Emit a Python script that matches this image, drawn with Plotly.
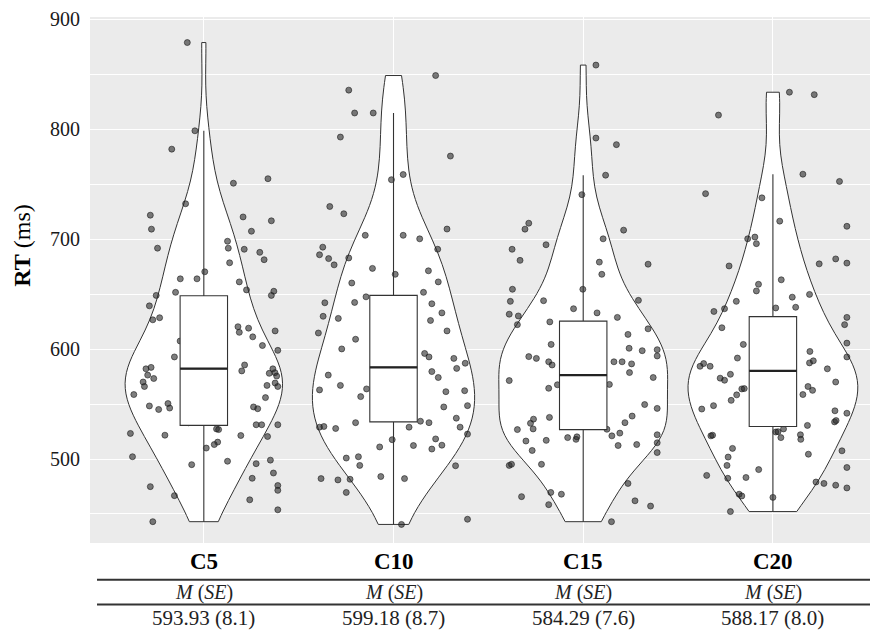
import numpy as np
import plotly.graph_objects as go

# ---------------- data ----------------
categories = ["C5", "C10", "C15", "C20"]

# visible (jittered) points: RT value and horizontal jitter offset
c5_rt = [879.0, 798.7, 782.0, 751.0, 755.1, 732.3, 721.9, 709.2, 720.3, 716.8,
         707.3, 691.9, 698.2, 691.9, 690.9, 688.1, 681.4, 678.6, 664.0, 664.0,
         670.4, 651.7, 648.9, 639.4, 661.2, 653.9, 652.7, 648.9, 626.7, 628.6,
         620.4, 615.3, 619.1, 611.2, 616.6, 603.3, 598.9, 607.4, 592.9, 585.6,
         580.2, 582.1, 583.4, 576.4, 573.3, 570.1, 566.0, 558.7, 582.1, 578.0,
         578.6, 575.5, 567.0, 569.2, 566.0, 555.9, 548.3, 545.1, 550.5, 546.4,
         547.4, 545.8, 531.2, 531.2, 531.2, 527.4, 526.8, 515.4, 513.2, 510.0,
         521.7, 523.3, 521.4, 520.5, 502.1, 494.9, 498.0, 495.8, 499.0, 482.5,
         487.3, 474.9, 466.7, 475.9, 471.5, 462.9, 453.8, 443.0]
c5_jitter = [-0.087, -0.047, -0.169, 0.156, 0.338, -0.096, -0.282, -0.276, 0.207, 0.356,
             0.251, -0.244, 0.125, 0.129, 0.213, 0.295, 0.318, 0.136, -0.124, -0.036,
             0.005, -0.149, -0.251, -0.287, 0.187, 0.225, 0.369, 0.356, -0.269, -0.233,
             0.18, 0.187, 0.236, 0.258, 0.376, 0.309, 0.39, -0.125, -0.155, 0.215,
             0.2, -0.305, -0.278, -0.296, -0.264, -0.32, -0.313, -0.369, 0.364, 0.345,
             0.375, 0.384, 0.333, 0.376, 0.39, 0.325, -0.287, -0.238, -0.189, -0.18,
             0.262, 0.284, 0.276, 0.305, 0.39, 0.067, 0.078, 0.073, 0.055, 0.013,
             -0.205, -0.387, 0.195, 0.336, -0.376, -0.064, 0.125, 0.276, 0.351, 0.255,
             0.367, -0.282, -0.155, 0.39, 0.39, 0.242, 0.39, -0.269]

c10_rt = [849.0, 835.7, 814.9, 814.9, 793.0, 775.7, 754.2, 758.9, 729.8, 723.2,
          703.6, 703.6, 700.4, 709.3, 690.9, 682.4, 676.7, 683.0, 673.5, 668.1,
          671.3, 660.2, 661.2, 647.6, 642.5, 651.7, 641.3, 633.0, 626.1, 628.0,
          616.6, 609.0, 600.2, 596.1, 592.9, 591.6, 582.5, 587.2, 579.6, 574.2,
          576.4, 567.0, 563.8, 556.8, 561.3, 562.2, 548.6, 547.4, 537.2, 529.0,
          522.7, 534.4, 533.1, 529.0, 527.8, 533.1, 517.6, 511.0, 512.3, 518.3,
          509.1, 512.6, 500.9, 502.1, 494.2, 481.0, 481.6, 469.6, 484.1, 482.2,
          493.9, 440.5, 445.2, 692.8, 685.9, 642.2, 629.9, 614.7, 562.9, 529.0,
          529.6, 482.2]
c10_jitter = [0.222, -0.236, -0.205, -0.107, -0.28, 0.3, -0.011, 0.051, -0.336, -0.262,
              -0.149, 0.051, 0.138, 0.282, 0.233, -0.342, -0.313, -0.236, -0.111, 0.009,
              0.184, -0.22, 0.236, -0.145, -0.205, 0.158, 0.202, 0.255, 0.195, -0.291,
              0.282, -0.2, -0.273, 0.164, 0.187, 0.318, 0.333, 0.378, 0.202, 0.236,
              -0.344, -0.28, -0.142, -0.173, 0.276, 0.375, 0.39, 0.265, 0.331, 0.351,
              0.39, 0.142, 0.187, 0.082, -0.305, -0.2, -0.007, -0.073, 0.105, 0.222,
              0.202, 0.255, -0.249, -0.185, -0.178, -0.293, -0.229, -0.249, -0.067, 0.058,
              0.327, 0.042, 0.39, -0.373, -0.39, -0.362, -0.371, -0.396, -0.39, -0.39,
              -0.367, -0.382]

c15_rt = [858.5, 792.1, 786.1, 758.3, 740.6, 714.6, 709.2, 708.3, 695.0, 700.4,
          680.8, 679.2, 677.3, 668.1, 654.5, 644.1, 644.4, 636.8, 633.0, 628.9,
          630.2, 622.3, 624.8, 613.4, 604.3, 618.5, 600.8, 598.6, 599.5, 593.8,
          593.2, 591.6, 588.5, 585.6, 588.5, 588.5, 586.6, 578.7, 567.6, 564.4,
          567.9, 574.2, 549.6, 546.1, 537.9, 536.3, 532.5, 527.4, 526.8, 516.4,
          507.8, 517.0, 539.1, 533.1, 527.1, 521.1, 523.6, 519.5, 517.9, 520.2,
          512.3, 513.2, 522.1, 514.8, 505.9, 495.2, 477.8, 469.6, 468.0, 458.5,
          465.8, 462.0, 457.2, 443.0, 690.9, 654.5, 643.5, 631.8, 571.4, 494.2,
          495.2]
c15_jitter = [0.067, 0.067, 0.175, 0.118, -0.007, -0.287, -0.307, 0.213, -0.196, 0.105,
              -0.333, 0.085, 0.342, 0.098, -0.002, -0.209, 0.291, -0.051, 0.073, 0.18,
              -0.342, -0.347, -0.176, 0.236, -0.169, 0.342, 0.242, 0.311, 0.39, 0.39,
              -0.287, -0.247, -0.182, -0.164, 0.162, 0.205, 0.255, 0.244, -0.136, -0.182,
              0.138, 0.369, 0.324, 0.39, -0.178, -0.262, -0.278, -0.264, -0.347, -0.302,
              -0.269, -0.195, 0.258, 0.22, 0.125, 0.151, 0.193, -0.082, -0.038, -0.033,
              0.184, 0.282, 0.39, 0.39, 0.39, -0.22, 0.236, -0.171, -0.115, -0.182,
              -0.325, 0.273, 0.355, 0.149, -0.375, -0.373, -0.384, -0.39, -0.39, -0.39,
              -0.378]

c20_rt = [833.8, 831.6, 813.0, 759.2, 752.6, 741.5, 737.7, 716.5, 711.8, 702.0,
          700.4, 696.0, 675.7, 677.6, 682.1, 678.3, 659.0, 653.0, 663.1, 647.3,
          649.8, 638.1, 643.5, 634.3, 636.8, 637.5, 619.5, 628.9, 622.3, 604.3,
          591.9, 605.5, 592.9, 597.9, 587.5, 589.4, 582.1, 584.4, 586.9, 584.4,
          573.6, 571.7, 577.1, 570.1, 563.8, 564.1, 566.0, 562.5, 553.4, 558.4,
          558.7, 545.5, 548.6, 543.9, 533.8, 535.0, 541.7, 530.6, 524.6, 524.9,
          527.4, 519.5, 522.1, 517.9, 521.1, 521.7, 509.7, 501.8, 494.2, 485.1,
          482.5, 483.2, 490.4, 504.4, 507.5, 492.3, 479.1, 477.8, 476.2, 473.7,
          468.0, 466.4, 465.1, 452.2]
c20_jitter = [0.087, 0.218, -0.287, 0.158, 0.351, -0.355, -0.058, 0.036, 0.39, -0.095,
              -0.133, -0.087, -0.231, 0.244, 0.331, 0.39, -0.076, -0.087, 0.044, 0.102,
              0.193, 0.12, -0.193, -0.311, -0.255, 0.015, -0.269, 0.39, 0.378, -0.156,
              -0.187, 0.39, 0.39, 0.195, 0.193, 0.213, 0.287, -0.384, -0.365, -0.331,
              -0.278, -0.255, -0.224, 0.331, -0.164, -0.151, 0.185, 0.209, -0.22, -0.191,
              0.158, -0.375, -0.313, 0.327, 0.325, 0.333, 0.39, 0.182, 0.015, 0.027,
              0.056, 0.042, 0.145, 0.147, -0.327, -0.318, -0.213, -0.236, -0.242, -0.349,
              -0.238, -0.142, -0.075, 0.187, 0.364, 0.39, 0.227, 0.269, 0.331, 0.39,
              -0.178, -0.164, 0.0, -0.224]

# points hidden behind the white boxes (estimated; inside each IQR)
c5_hidden_rt = [533, 540, 551, 555, 563, 568, 574, 579, 583, 589, 596, 606, 611, 624, 635, 645]
c10_hidden_rt = [537, 545, 552, 559, 566, 571, 577, 584, 590, 597, 605, 614, 623, 634, 644]
c15_hidden_rt = [530, 537, 544, 551, 556, 561, 567, 572, 578, 583, 590, 597, 605, 613, 621]
c20_hidden_rt = [533, 540, 547, 553, 559, 564, 569, 574, 579, 584, 590, 596, 603, 611, 619, 627]
hidden_jitter = [-0.08, 0.05, -0.02, 0.09, -0.1, 0.03, 0.07, -0.05, 0.01, -0.09,
                 0.1, -0.03, 0.06, -0.07, 0.02, -0.04]

# boxplot statistics
box_q1 = [530.6, 533.8, 526.8, 529.6]
box_median = [582.2, 583.4, 576.4, 580.2]
box_q3 = [648.6, 648.9, 625.5, 629.6]
box_lower = [443.0, 440.5, 443.0, 452.2]
box_upper = [798.7, 814.9, 758.3, 759.2]

# table values
means = [593.93, 599.18, 584.29, 588.17]
ses = [8.1, 8.7, 7.6, 8.0]

# ---------------- styles ----------------
SERIF = "Liberation Serif, Times New Roman, serif"
LINE = "#333333"
BOX_W = 0.25
VIOLIN_WIDTHS = [0.83, 0.855, 0.89, 0.895]
X_RANGE = [0.4, 4.554]
Y_RANGE = [423.6, 902.25]

visible = [(c5_rt, c5_jitter), (c10_rt, c10_jitter), (c15_rt, c15_jitter), (c20_rt, c20_jitter)]
hidden = [c5_hidden_rt, c10_hidden_rt, c15_hidden_rt, c20_hidden_rt]


def bw_nrd0(v):
    v = np.asarray(v, float)
    sd = v.std(ddof=1)
    q75, q25 = np.percentile(v, [75, 25])
    lo = min(sd, (q75 - q25) / 1.34)
    return 0.9 * lo * len(v) ** -0.2


fig = go.Figure()
positions = list(range(1, len(categories) + 1))

all_rt = []
all_x = []
for pos, (v, j), h in zip(positions, visible, hidden):
    ys = list(h) + list(v)
    xs = [pos + d for d in hidden_jitter[:len(h)]] + [pos + d for d in j]
    all_rt.append(ys)
    all_x.append(xs)

# layer 1: violins (main axes)
for pos, ys, w in zip(positions, all_rt, VIOLIN_WIDTHS):
    fig.add_trace(go.Violin(
        x=[pos] * len(ys), y=ys, width=w, bandwidth=float(bw_nrd0(ys)),
        spanmode="hard", points=False, scalemode="width",
        fillcolor="white", line=dict(color=LINE, width=1),
        box_visible=False, meanline_visible=False, hoverinfo="skip",
        showlegend=False))

# layer 2: jittered points (main axes, scatter layer above violins)
for xs, ys in zip(all_x, all_rt):
    fig.add_trace(go.Scatter(
        x=xs, y=ys, mode="markers",
        marker=dict(size=6, color="rgba(40,40,40,0.6)",
                    line=dict(width=0.8, color="rgba(20,20,20,0.7)")),
        hoverinfo="skip", showlegend=False))

# layer 3: boxes on overlaid axes so they cover the points
for i, pos in enumerate(positions):
    fig.add_trace(go.Box(
        x=[pos], q1=[box_q1[i]], median=[box_median[i]], q3=[box_q3[i]],
        lowerfence=[box_lower[i]], upperfence=[box_upper[i]],
        width=BOX_W, whiskerwidth=0, fillcolor="white", boxpoints=False,
        line=dict(color=LINE, width=1.1), hoverinfo="skip", showlegend=False,
        xaxis="x2", yaxis="y2"))
    fig.add_trace(go.Scatter(
        x=[pos - BOX_W / 2, pos + BOX_W / 2], y=[box_median[i]] * 2,
        mode="lines", line=dict(color="#222222", width=2.2),
        hoverinfo="skip", showlegend=False, xaxis="x2", yaxis="y2"))

# category labels and table below the panel
annotations = []
for pos, c, m, s in zip(positions, categories, means, ses):
    annotations.append(dict(x=pos, xref="x", y=-0.0358, yref="paper",
                            text=f"<b>{c}</b>", showarrow=False, yanchor="middle",
                            font=dict(family=SERIF, size=23, color="black")))
    annotations.append(dict(x=pos, xref="x", y=-0.0942, yref="paper",
                            text="<i>M</i> (<i>SE</i>)", showarrow=False,
                            yanchor="middle",
                            font=dict(family=SERIF, size=20, color="#222222")))
    annotations.append(dict(x=pos, xref="x", y=-0.1431, yref="paper",
                            text=f"{m:.2f} ({s:.1f})", showarrow=False,
                            yanchor="middle",
                            font=dict(family=SERIF, size=21, color="#222222")))
shapes = []
for yy in (-0.0697, -0.1168):
    shapes.append(dict(type="line", xref="paper", yref="paper",
                       x0=0.0089, x1=1.0, y0=yy, y1=yy,
                       line=dict(color=LINE, width=2)))

annotations.append(dict(x=-0.0863, xref="paper", y=0.567, yref="paper",
                        text="<b>RT</b> (ms)", textangle=-90, showarrow=False,
                        xanchor="center", yanchor="middle",
                        font=dict(family=SERIF, size=24, color="black")))

# the page body adds an 8px offset; the figure fills the rest of the window
fig.update_layout(
    width=870, height=625,
    margin=dict(l=82, r=0, t=4, b=90),
    paper_bgcolor="white", plot_bgcolor="#EBEBEB",
    violinmode="overlay", boxmode="overlay",
    showlegend=False,
    annotations=annotations, shapes=shapes,
    xaxis=dict(range=X_RANGE, tickvals=positions, showticklabels=False,
               ticks="", showgrid=True, gridcolor="white", gridwidth=1.1,
               zeroline=False, showline=False),
    yaxis=dict(range=Y_RANGE, tickvals=[500, 600, 700, 800, 900],
               tickfont=dict(family=SERIF, size=20, color="#1a1a1a"),
               ticks="outside", ticklen=5, tickcolor="rgba(0,0,0,0)",
               ticklabeloverflow="allow",
               showgrid=True, gridcolor="white", gridwidth=1.1,
               minor=dict(tickvals=[450, 550, 650, 750, 850], showgrid=True,
                          gridcolor="white", gridwidth=0.6),
               zeroline=False, showline=False),
    xaxis2=dict(range=X_RANGE, overlaying="x", visible=False,
                showgrid=False, zeroline=False),
    yaxis2=dict(range=Y_RANGE, overlaying="y", visible=False,
                showgrid=False, zeroline=False),
)

fig.write_html("out.html")
